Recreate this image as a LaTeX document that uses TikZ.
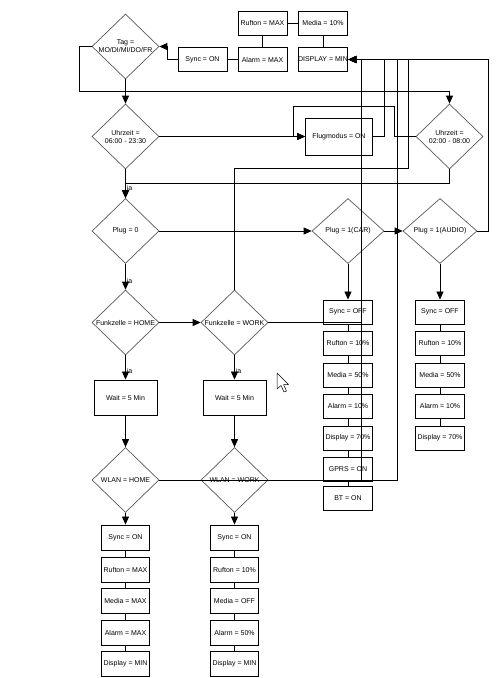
\documentclass[tikz,border=0pt]{standalone}
\usepackage{fontspec}
\setmainfont{Liberation Sans}
\usetikzlibrary{shapes.geometric,arrows.meta}
\newcommand\dgfont{\fontsize{7}{8}\selectfont}
\begin{document}
\begin{tikzpicture}[x=1pt,y=-1pt,
  box/.style={draw=black, line width=0.9pt, minimum width=49pt, minimum height=24pt, inner sep=0pt, font=\dgfont},
  dia/.style={diamond, draw=black!65, line width=0.7pt, minimum width=67pt, minimum height=65pt, inner sep=0pt},
  dlbl/.style={font=\dgfont, align=center, inner sep=0pt},
  conn/.style={draw=black, line width=0.8pt},
  arr/.style={conn, -{Triangle[length=8pt,width=7pt]}},
  jalab/.style={font=\dgfont, inner sep=1pt, anchor=north west}]
\useasboundingbox (0,0) rectangle (503,678);
% top row
\node[dia, label={[dlbl]center:Tag =\\MO/DI/MI/DO/FR}] (tag) at (125.5,46.5) {};
\node[box] (sync) at (202.5,59.5) {Sync = ON};
\node[box] (alarm) at (262.5,59.5) {Alarm = MAX};
\node[box] (ruf) at (262.5,23) {Rufton = MAX};
\node[box] (media) at (323,23) {Media = 10\%};
\node[box] (disp) at (323,59.5) {DISPLAY = MIN};
% time checks
\node[dia, label={[dlbl]center:Uhrzeit =\\06:00 - 23:30}] (u1) at (125.5,136.5) {};
\node[box, minimum width=67pt, minimum height=37pt] (flug) at (339,136.5) {Flugmodus = ON};
\node[dia, label={[dlbl]center:Uhrzeit =\\02:00 - 08:00}] (u2) at (449.5,136.5) {};
% plug
\node[dia, label={[dlbl]center:Plug = 0}] (p0) at (125.5,231) {};
\node[dia, minimum width=72pt, label={[dlbl]center:Plug = 1(CAR)}] (car) at (348,231) {};
\node[dia, minimum width=74pt, label={[dlbl]center:Plug = 1(AUDIO)}] (aud) at (440,231) {};
% funkzelle
\node[dia, label={[dlbl]center:Funkzelle = HOME}] (fh) at (125.5,322.5) {};
\node[dia, label={[dlbl]center:Funkzelle = WORK}] (fw) at (234.5,322.5) {};
\node[box, minimum width=63pt, minimum height=35pt] (w1) at (125.5,397.5) {Wait = 5 Min};
\node[box, minimum width=63pt, minimum height=35pt] (w2) at (234.5,397.5) {Wait = 5 Min};
\node[dia, label={[dlbl]center:WLAN = HOME}] (wh) at (125.5,480) {};
\node[dia, label={[dlbl]center:WLAN = WORK}] (ww) at (234.5,480) {};
% home column
\node[box, minimum width=48pt, minimum height=25pt] (h1) at (125.5,537.5) {Sync = ON};
\node[box, minimum width=48pt, minimum height=25pt] (h2) at (125.5,569.5) {Rufton = MAX};
\node[box, minimum width=48pt, minimum height=25pt] (h3) at (125.5,600.5) {Media = MAX};
\node[box, minimum width=48pt, minimum height=25pt] (h4) at (125.5,632.5) {Alarm = MAX};
\node[box, minimum width=48pt, minimum height=25pt] (h5) at (125.5,664) {Display = MIN};
% work column
\node[box, minimum width=48pt, minimum height=25pt] (k1) at (234.5,537.5) {Sync = ON};
\node[box, minimum width=48pt, minimum height=25pt] (k2) at (234.5,569.5) {Rufton = 10\%};
\node[box, minimum width=48pt, minimum height=25pt] (k3) at (234.5,600.5) {Media = OFF};
\node[box, minimum width=48pt, minimum height=25pt] (k4) at (234.5,632.5) {Alarm = 50\%};
\node[box, minimum width=48pt, minimum height=25pt] (k5) at (234.5,664) {Display = MIN};
% car column
\node[box] (c1) at (348,312) {Sync = OFF};
\node[box] (c2) at (348,343) {Rufton = 10\%};
\node[box] (c3) at (348,375) {Media = 50\%};
\node[box] (c4) at (348,406) {Alarm = 10\%};
\node[box] (c5) at (348,438) {Display = 70\%};
\node[box] (c6) at (348,469.5) {GPRS = ON};
\node[box] (c7) at (348,498.5) {BT = ON};
% audio column
\node[box] (a1) at (440,312) {Sync = OFF};
\node[box] (a2) at (440,343) {Rufton = 10\%};
\node[box] (a3) at (440,375) {Media = 50\%};
\node[box] (a4) at (440,406) {Alarm = 10\%};
\node[box] (a5) at (440,438) {Display = 70\%};

% plain links at top
\draw[conn] (sync.east) -- (alarm.west);
\draw[conn] (ruf.south) -- (alarm.north);
\draw[conn] (ruf.east) -- (media.west);
\draw[conn] (media.south) -- (disp.north);
\draw[arr] (sync.west) -- ++(-10,0) |- (tag.east);
% tag branches
\draw[arr] (tag.south) -- (u1.north);
\draw[arr] (tag.west) -| (79,91) -| (u2.north);
% time branches
\draw[arr] (u1.east) -- (flug.west);
\draw[arr] (u2.west) -- (394,136.5) |- (293,106) |- (flug.west);
\draw[arr] (flug.east) -| (384,59.5) -- (disp.east);
\draw[arr] (u1.south) -- node[jalab]{ja} (p0.north);
\draw[arr] (u2.south) |- ([yshift=15pt]p0.north) -- (p0.north);
% plug
\draw[arr] (p0.east) -- (car.west);
\draw[arr] (car.east) -- (aud.west);
\draw[arr] (aud.east) -| (488,59.5) -- (disp.east);
\draw[arr] (car.south) -- (c1.north);
\draw[arr] (aud.south) -- (a1.north);
\draw[arr] (p0.south) -- node[jalab]{ja} (fh.north);
% funkzelle
\draw[arr] (fh.east) -- (fw.west);
\draw[arr] (fw.north) |- (408,168) |- (disp.east);
\draw[arr] (fw.east) -| (361,59.5) -- (disp.east);
\draw[arr] (fh.south) -- node[jalab]{ja} (w1.north);
\draw[arr] (fw.south) -- node[jalab]{ja} (w2.north);
\draw[arr] (w1.south) -- (wh.north);
\draw[arr] (w2.south) -- (ww.north);
\draw[arr] (wh.south) -- (h1.north);
\draw[arr] (ww.south) -- (k1.north);
\draw[arr] (wh.east) -| (397,59.5) -- (disp.east);
\draw[arr] (ww.east) -| (361,59.5) -- (disp.east);
% column chains
\foreach \a/\b in {h1/h2,h2/h3,h3/h4,h4/h5,k1/k2,k2/k3,k3/k4,k4/k5,c1/c2,c2/c3,c3/c4,c4/c5,c5/c6,c6/c7,a1/a2,a2/a3,a3/a4,a4/a5}
  \draw[conn] (\a.south) -- (\b.north);
% mouse pointer
\draw[fill=white, line width=0.5pt, line join=round] (277,373) -- (277,389) -- (281,385.5) -- (284,392) -- (286.5,391) -- (283.5,384.5) -- (288.5,384.5) -- cycle;
\end{tikzpicture}
\end{document}
